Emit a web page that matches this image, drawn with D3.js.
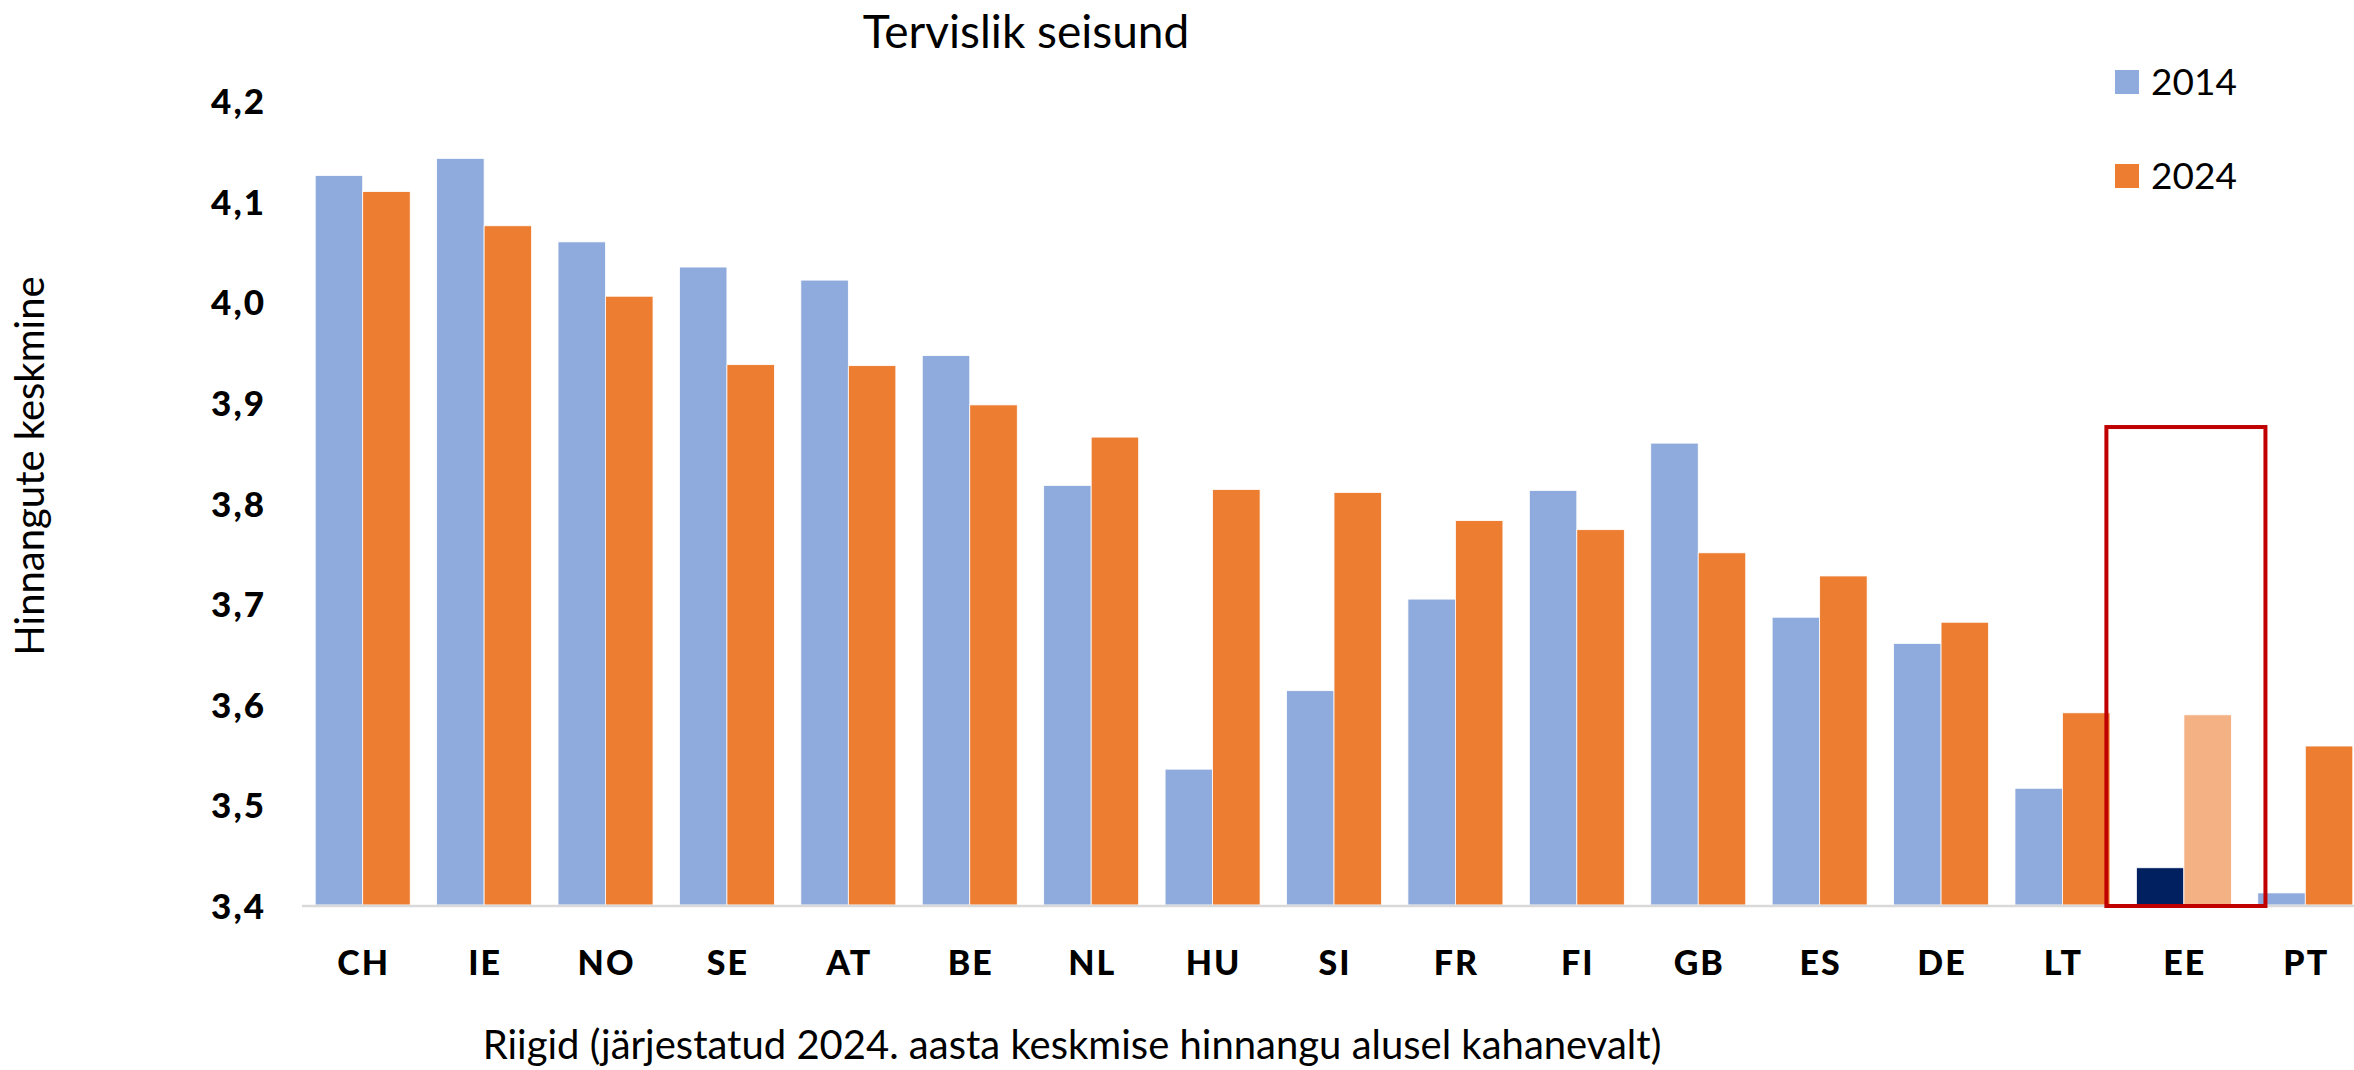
<!DOCTYPE html>
<html>
<head>
<meta charset="utf-8">
<script src="https://cdn.jsdelivr.net/npm/d3@7"></script>
<style>
  body { margin: 0; background: #fff; }
  text { font-family: Lato, "Open Sans", sans-serif; fill: #000; }
  .tick-lbl { font-weight: 900; letter-spacing: 2px; }
</style>
</head>
<body>
<script>
// data
var countries = ["CH","IE","NO","SE","AT","BE","NL","HU","SI","FR","FI","GB","ES","DE","LT","EE","PT"];
var val2014 = [4.125,4.142,4.059,4.034,4.021,3.946,3.817,3.535,3.613,3.704,3.812,3.859,3.686,3.660,3.516,3.437,3.412];
var val2024 = [4.109,4.075,4.005,3.937,3.936,3.897,3.865,3.813,3.810,3.782,3.773,3.750,3.727,3.681,3.591,3.589,3.558];
var yTicks = [3.4,3.5,3.6,3.7,3.8,3.9,4.0,4.1,4.2];
var seriesNames = ["2014","2024"];
var highlight = "EE";

var W = 2354, H = 1070;
var colors = { "2014": "#8FAADC", "2024": "#ED7D31" };
var hiColors = { "2014": "#002060", "2024": "#F4B183" };

var svg = d3.select("body").append("svg")
  .attr("width", W).attr("height", H);

var x = d3.scaleBand()
  .domain(countries)
  .range([302, 2366])
  .paddingInner(0.2175)
  .paddingOuter(0.2175 / 2);

var y = d3.scaleLinear().domain([3.4, 4.2]).range([905, 100]);

var bw = x.bandwidth() / 2;

// bars
var rows = countries.map(function(c, i) {
  return { c: c, v: [val2014[i], val2024[i]] };
});

var grp = svg.append("g");
rows.forEach(function(r) {
  seriesNames.forEach(function(s, k) {
    var hi = r.c === highlight;
    grp.append("rect")
      .attr("x", x(r.c) + k * bw)
      .attr("y", y(r.v[k]))
      .attr("width", bw)
      .attr("height", y(3.4) - y(r.v[k]))
      .attr("fill", hi ? hiColors[s] : colors[s])
      .attr("stroke", "#fff")
      .attr("stroke-width", 0.8);
  });
});

// x axis line
svg.append("line")
  .attr("x1", x.range()[0]).attr("x2", x.range()[1])
  .attr("y1", y(3.4) + 1).attr("y2", y(3.4) + 1)
  .attr("stroke", "#D9D9D9").attr("stroke-width", 2.5);

// y tick labels
svg.append("g").selectAll("text")
  .data(yTicks).join("text")
  .attr("class", "tick-lbl")
  .attr("x", 266)
  .attr("y", function(d) { return y(d) + 14; })
  .attr("text-anchor", "end")
  .style("font-size", "35px")
  .text(function(d) { return d3.format(".1f")(d).replace(".", ","); });

// x tick labels
svg.append("g").selectAll("text")
  .data(countries).join("text")
  .attr("class", "tick-lbl")
  .attr("x", function(d) { return x(d) + x.bandwidth() / 2 + 1; })
  .attr("y", 975)
  .attr("text-anchor", "middle")
  .style("font-size", "34px")
  .text(function(d) { return d; });

// highlight box round EE
var step = x.step();
svg.append("rect")
  .attr("x", x(highlight) - 0.247 * step)
  .attr("y", y(3.875))
  .attr("width", step * 1.31)
  .attr("height", y(3.4) + 1 - y(3.875))
  .attr("fill", "none")
  .attr("stroke", "#C00000")
  .attr("stroke-width", 4);

// title
svg.append("text")
  .attr("x", 1026).attr("y", 48)
  .attr("text-anchor", "middle")
  .style("font-size", "46px")
  .text("Tervislik seisund");

// axis titles
svg.append("text")
  .attr("x", 1072).attr("y", 1059)
  .attr("text-anchor", "middle")
  .style("font-size", "40px")
  .text("Riigid (järjestatud 2024. aasta keskmise hinnangu alusel kahanevalt)");

svg.append("text")
  .attr("transform", "translate(44,466) rotate(-90)")
  .attr("text-anchor", "middle")
  .style("font-size", "40px")
  .text("Hinnangute keskmine");

// legend
var leg = svg.append("g");
seriesNames.forEach(function(s, i) {
  leg.append("rect")
    .attr("x", 2115).attr("y", 70 + i * 94)
    .attr("width", 24).attr("height", 24)
    .attr("fill", colors[s]);
  leg.append("text")
    .attr("x", 2151).attr("y", 95 + i * 94)
    .style("font-size", "37px")
    .text(s);
});
</script>
</body>
</html>
